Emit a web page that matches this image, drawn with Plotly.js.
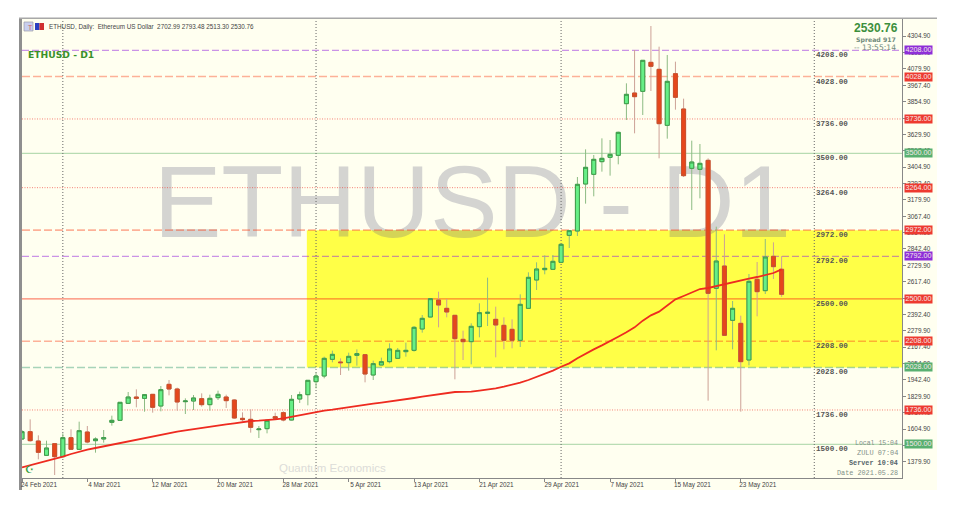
<!DOCTYPE html>
<html><head><meta charset="utf-8">
<script src="https://cdn.plot.ly/plotly-3.0.1.min.js"></script>
<style>html,body{margin:0;padding:0;background:#fff}</style>
</head><body><div id="chart" style="width:960px;height:505px"></div>
<script>
const dates=['2021-02-24','2021-02-25','2021-02-26','2021-02-27','2021-02-28',
'2021-03-01','2021-03-02','2021-03-03','2021-03-04','2021-03-05','2021-03-06','2021-03-07','2021-03-08','2021-03-09','2021-03-10','2021-03-11','2021-03-12','2021-03-13','2021-03-14','2021-03-15','2021-03-16','2021-03-17','2021-03-18','2021-03-19','2021-03-20','2021-03-21','2021-03-22','2021-03-23','2021-03-24','2021-03-25','2021-03-26','2021-03-27','2021-03-28','2021-03-29','2021-03-30','2021-03-31',
'2021-04-01','2021-04-02','2021-04-03','2021-04-04','2021-04-05','2021-04-06','2021-04-07','2021-04-08','2021-04-09','2021-04-10','2021-04-11','2021-04-12','2021-04-13','2021-04-14','2021-04-15','2021-04-16','2021-04-17','2021-04-18','2021-04-19','2021-04-20','2021-04-21','2021-04-22','2021-04-23','2021-04-24','2021-04-25','2021-04-26','2021-04-27','2021-04-28','2021-04-29','2021-04-30',
'2021-05-01','2021-05-02','2021-05-03','2021-05-04','2021-05-05','2021-05-06','2021-05-07','2021-05-08','2021-05-09','2021-05-10','2021-05-11','2021-05-12','2021-05-13','2021-05-14','2021-05-15','2021-05-16','2021-05-17','2021-05-18','2021-05-19','2021-05-20','2021-05-21','2021-05-22','2021-05-23','2021-05-24','2021-05-25','2021-05-26','2021-05-27','2021-05-28'];
const opens=[1536.5,1586.9,1522.7,1424.2,1504.4,1415,1545.6,1465.5,1584.6,1525,1536.5,1651,1664.7,1781.6,1825.1,1816,1843.5,1763.3,1912.2,1880.1,1793,1797.6,1813.7,1772.4,1820.5,1825.1,1804.5,1678.5,1671.6,1600.6,1607.5,1689.9,1717.5,1667,1811.4,1841.2,1930.5,1969.5,2084,2065.7,2061.1,2111.5,2116.1,1976.3,2045.1,2068,2090.9,2136.7,2145.9,2292.5,2375,2491.8,2434.6,2386.5,2221.5,2205.4,2308.5,2400.2,2359,2317.7,2290.2,2214.6,2434.6,2629.3,2700.3,2702.6,2750.7,2936.3,2966.1,3289.1,3355.6,3442.6,3472.4,3486.1,3841.3,3914.6,3926,4125.4,4077.3,3692.3,4047.5,3804.6,3396.8,3389.9,3451.8,2572,2725.5,2352,2331.4,2079.4,2633.9,2556,2791.9,2702.99];
const highs=[1598.3,1671.6,1561.6,1525,1506.7,1575.4,1602.9,1655.6,1625.8,1547.9,1598.3,1696.8,1788.5,1859.5,1877.8,1845.7,1843.5,1900.7,1942,1889.3,1816,1838.9,1850.3,1841.2,1868.7,1841.2,1809.1,1719.7,1740.4,1625.8,1669.3,1717.5,1726.6,1838.9,1861.8,1942,1992.4,2102.3,2143.6,2090.9,2129.8,2152.8,2116.1,2074.9,2095.5,2194,2161.9,2198.6,2313.1,2388.7,2501,2549.1,2498.7,2388.7,2281.1,2331.5,2468.9,2645.3,2446,2372.7,2359,2530.8,2682,2750.7,2798.8,2801.1,2876.7,2973,3337.2,3527.4,3488.4,3603,3591.5,3648.8,3981,4210.1,4139.1,4375.1,4233,4175.8,4129.9,3875.6,3587,3564,3465.5,2995.8,2943.2,2484.9,2384.1,2670.5,2753,2911.1,2888.2,2793.48];
const lows=[1529.6,1518.1,1396.7,1419.6,1289,1410.4,1460.8,1460.8,1506.7,1442.5,1511.2,1628.1,1662.5,1777,1754.1,1724.3,1717.5,1726.6,1836.6,1731.2,1708.3,1735.8,1758.7,1731.2,1804.5,1749.5,1676.2,1657.9,1580,1543.3,1575.4,1667,1657.9,1664.7,1783.9,1767.8,1884.7,1953.4,2063.4,1976.3,2006.1,2040.5,1925.9,1942,2045.1,2056.5,2086.3,2102.3,2136.7,2267.3,2372.7,2304,2372.7,1946.6,2079.4,2049.7,2235.2,2313.1,2097.8,2152.8,2159.6,2168.8,2434.6,2560.6,2668.3,2698,2748.4,2849.2,2931.7,3153.9,3204.3,3373.9,3346.4,3424.3,3729,3637.4,3763.4,3928.3,3465.5,3600.7,3800,3337.2,3110.4,3190.6,1799.9,2145.8,2244.4,2152.7,1724.3,2042.7,2379.5,2533,2636.1,2513.3];
const closes=[1586.9,1525,1444.8,1474.6,1415,1545.6,1465.5,1593.7,1515.8,1536.5,1545.6,1664.7,1788.5,1825.1,1816,1841.2,1754.1,1875.5,1880.1,1790.8,1797.6,1818.3,1772.4,1816,1843.5,1799.9,1680.8,1669.3,1616.6,1605.2,1664.7,1678.5,1667,1809.1,1841.2,1939.7,1969.5,2090.9,2118.4,2061.1,2104.6,2123,1983.2,2054.2,2068,2155,2145.9,2145.9,2304,2365.8,2501,2457.5,2409.4,2226.1,2205.4,2310.8,2404.8,2407.1,2320,2214.6,2214.6,2462.1,2647.6,2704.9,2709.5,2757.6,2874.5,2968.4,3286.8,3403.7,3458.7,3465.5,3493,3644.2,3905.4,3889.4,4139.1,4097.9,3703.8,3994.8,3884.8,3346.4,3440.3,3431.2,2537.6,2759.9,2248.9,2434.5,2067.9,2620.1,2549.1,2787.4,2720.9,2530.76];
const movingAvg=[1341.7,1355.5,1369.2,1383,1399,1415,1433.4,1449.4,1463.1,1474.6,1486,1499.8,1511.2,1520.4,1529.6,1541,1552.5,1564,1577.7,1586.9,1596,1605.2,1612.1,1621.2,1630.4,1637.3,1644.1,1653.3,1660.2,1662.5,1664.8,1671.6,1678.5,1690,1701.4,1712.9,1722,1731.2,1738.1,1747.2,1756.4,1763.3,1770.1,1779.3,1786.2,1793.1,1799.9,1809.1,1818.3,1827.4,1836.6,1845.7,1852.6,1859.5,1860.6,1861.8,1868.7,1875.5,1884.7,1896.1,1907.6,1923.7,1942,1962.6,1983.2,2006.1,2033,2056.5,2090.9,2122.9,2152.7,2180.2,2207.7,2239.8,2269.6,2303.9,2349.8,2386.4,2411.6,2455.1,2496.4,2519.3,2544.5,2567.4,2574.3,2588,2601.8,2613.2,2624.7,2638.4,2649.9,2663.6,2677.4,2702.6];
const bodyHighs=opens.map((o,i)=>Math.max(o,closes[i]));
const bodyLows=opens.map((o,i)=>Math.min(o,closes[i]));
const xTickDates=['2021-02-24','2021-03-04','2021-03-12','2021-03-20','2021-03-28','2021-04-05','2021-04-13','2021-04-21','2021-04-29','2021-05-07','2021-05-15','2021-05-23'];
const xTickLabels=['24 Feb 2021','4 Mar 2021','12 Mar 2021','20 Mar 2021','28 Mar 2021','5 Apr 2021','13 Apr 2021','21 Apr 2021','29 Apr 2021','7 May 2021','15 May 2021','23 May 2021'];
const yTickVals=[4304.9,4192.4,4079.9,3967.4,3854.9,3742.4,3629.9,3517.4,3404.9,3292.4,3179.9,3067.4,2954.9,2842.4,2729.9,2617.4,2504.9,2392.4,2279.9,2167.4,2054.9,1942.4,1829.9,1717.4,1604.9,1492.4,1379.9];
const monthStarts=['2021-03-01','2021-04-01','2021-05-01','2021-06-01'];
const levelValues=[4208,4028,3736,3500,3264,2972,2792,2500,2208,2028,1736,1500];
const levelKinds=['pd','rd','dot','gs','dot','rd','pd','rs','rd','gd','dot','gs'];
const zoneTop=2972, zoneBottom=2028;
const yRange=[1268.4,4423.2];
const styleOf={
 pd:{c:'rgba(150,40,220,0.5)',w:1.3,d:'7px,3px',b:'#8e2fd8'},
 rd:{c:'rgba(250,60,20,0.4)',w:1.6,d:'8px,3px',b:'#ee3a30'},
 dot:{c:'rgba(240,50,40,0.6)',w:1,d:'1px,1.5px',b:'#ee3a30'},
 gs:{c:'rgba(80,170,90,0.5)',w:1,d:'solid',b:'#58b070'},
 rs:{c:'rgba(250,50,20,0.6)',w:1.2,d:'solid',b:'#ee3a30'},
 gd:{c:'rgba(80,170,130,0.5)',w:1.3,d:'8px,3px',b:'#58b070'}
};
const PX=x=>(x-22)/880, PY=y=>1-(y-19)/459;
const paperRect=(x0,y0,x1,y1,fill,line)=>({type:'rect',xref:'paper',yref:'paper',x0:PX(x0),x1:PX(x1),y0:PY(y1),y1:PY(y0),fillcolor:fill,line:line?{color:line,width:0.7}:{width:0},layer:'below'});
const xStart='2021-02-24 00:00', xEnd='2021-06-11 17:45';
const shapes=[
 paperRect(19,18,937,490,'#fffff0'),
 paperRect(19,18,22,490,'#8f8f8f'),
 paperRect(19,17.5,937,19,'#a8a8a8'),
 {type:'rect',xref:'x',yref:'y',x0:'2021-03-30 21:00',x1:xEnd,y0:zoneBottom,y1:zoneTop,fillcolor:'#ffff47',line:{width:0},layer:'below'},
 {type:'rect',xref:'x',yref:'y',x0:'2021-03-11 03:00',x1:'2021-05-30 03:00',y0:2982,y1:3482,fillcolor:'rgba(0,0,0,0)',line:{width:0},layer:'below',
  label:{text:'ETHUSD - D1',font:{family:'Liberation Sans',size:101.5,color:'rgba(100,100,130,0.28)'},textposition:'middle center'}}
];
levelValues.forEach((v,i)=>{const s=styleOf[levelKinds[i]];
 shapes.push({type:'line',xref:'x',yref:'y',x0:xStart,x1:xEnd,y0:v,y1:v,line:{color:s.c,width:s.w,dash:s.d},layer:'below'});});
monthStarts.forEach(d=>shapes.push({type:'line',xref:'x',yref:'y',x0:d,x1:d,y0:yRange[0],y1:yRange[1],line:{color:'#666',width:1,dash:'1px,2px'},layer:'below'}));
shapes.push(paperRect(24,22,33,31,'#c9cfee','#9a9aa8'),paperRect(35,23,39.5,30,'#2a3fc0'),paperRect(39.5,23,44,30,'#d03030'));
const note=(x,y,text,o={})=>Object.assign({xref:'paper',yref:'paper',x:PX(x),y:PY(y),text,showarrow:false,xanchor:'left',yanchor:'middle',borderpad:0,font:{family:'Liberation Sans',size:7,color:'#444'}},o);
const mono='Liberation Mono';
const annotations=[
 note(48,27,'ETHUSD, Daily:  Ethereum US Dollar  2702.99 2793.48 2513.30 2530.76',{font:{family:'Liberation Sans',size:6.3,color:'#444'}}),
 note(26.5,27,'T',{font:{family:'Liberation Sans',size:7,color:'#d06060'}}),
 note(27,54,'ETHUSD - D1',{font:{family:'DejaVu Sans',size:9.2,color:'#3a8f2a',weight:700}}),
 note(899,28,'2530.76',{xanchor:'right',font:{family:'Liberation Sans',size:12,color:'#3c8f3c',weight:700}}),
 note(897,39.5,'Spread 917',{xanchor:'right',font:{family:'DejaVu Sans',size:6.2,color:'#6f8a7a',weight:700}}),
 note(897,47.5,'-- 13:55:14',{xanchor:'right',font:{family:'DejaVu Sans',size:7.6,color:'#6f8a7a'}}),
 note(899,443,'Local 15:04',{xanchor:'right',font:{family:mono,size:6.5,color:'#7f8f88'}}),
 note(899,453,'ZULU 07:04',{xanchor:'right',font:{family:mono,size:6.9,color:'#7f8f88'}}),
 note(899,463,'Server 10:04',{xanchor:'right',font:{family:mono,size:6.8,color:'#55656a',weight:700}}),
 note(899,473,'Date 2021.05.28',{xanchor:'right',font:{family:mono,size:6.8,color:'#7f8f88'}}),
 note(278,468,'Quantum Economics',{font:{family:'Liberation Sans',size:11.5,color:'#dcdcd8'}}),
 note(24,469,'☪',{font:{family:'DejaVu Sans',size:10,color:'#2e9b3a'}})
];
levelValues.forEach((v,i)=>{
 const s=styleOf[levelKinds[i]], t=v.toFixed(2);
 annotations.push({xref:'paper',yref:'y',x:PX(904),y:v,text:t,showarrow:false,xanchor:'left',yanchor:'middle',width:27,height:7.5,bgcolor:s.b,borderpad:0,font:{family:'Liberation Sans',size:7.2,color:'#f4e8e8'}});
 annotations.push({xref:'x',yref:'y',x:monthStarts[3],y:v,text:t,showarrow:false,xanchor:'left',yanchor:'top',yshift:1,xshift:0,font:{family:mono,size:7.6,color:'#555',weight:700}});
});
const wicks={type:'candlestick',x:dates,open:opens,high:highs,low:lows,close:closes,hoverinfo:'skip',showlegend:false,whiskerwidth:0,
 increasing:{line:{color:'#8dbb83',width:1},fillcolor:'#66ef86'},decreasing:{line:{color:'#cda196',width:1},fillcolor:'#e6471c'}};
const bodies={type:'candlestick',x:dates,open:opens,high:bodyHighs,low:bodyLows,close:closes,hoverinfo:'skip',showlegend:false,whiskerwidth:0,
 increasing:{line:{color:'#3f9a4a',width:1},fillcolor:'#66ef86'},decreasing:{line:{color:'#c9502c',width:1},fillcolor:'#e6471c'}};
const ma={type:'scatter',mode:'lines',x:dates,y:movingAvg,line:{color:'#ee2b20',width:1.8},hoverinfo:'skip',showlegend:false};
const tickFont={family:'Liberation Sans',size:6.4,color:'#444'};
const layout={width:960,height:505,autosize:false,margin:{l:22,r:58,t:19,b:27,pad:0},paper_bgcolor:'#ffffff',plot_bgcolor:'#fffff0',showlegend:false,
 font:{family:'Liberation Sans'},shapes,annotations,
 xaxis:{type:'date',range:[xStart,xEnd],rangeslider:{visible:false},tickmode:'array',tickvals:xTickDates,ticktext:xTickLabels,ticks:'outside',ticklen:3,tickcolor:'#888',ticklabelshift:17,ticklabelstandoff:-3,tickangle:0,tickfont:tickFont,showgrid:false,zeroline:false,showline:true,linecolor:'#888',linewidth:1,fixedrange:true},
 yaxis:{side:'right',range:yRange,tickmode:'array',tickvals:yTickVals,ticktext:yTickVals.map(v=>v.toFixed(2)),ticks:'outside',ticklen:3,tickcolor:'#888',tickfont:tickFont,showgrid:false,zeroline:false,showline:true,linecolor:'#888',linewidth:1,fixedrange:true}
};
Plotly.newPlot('chart',[wicks,bodies,ma],layout,{displayModeBar:false,staticPlot:true});
</script></body></html>
